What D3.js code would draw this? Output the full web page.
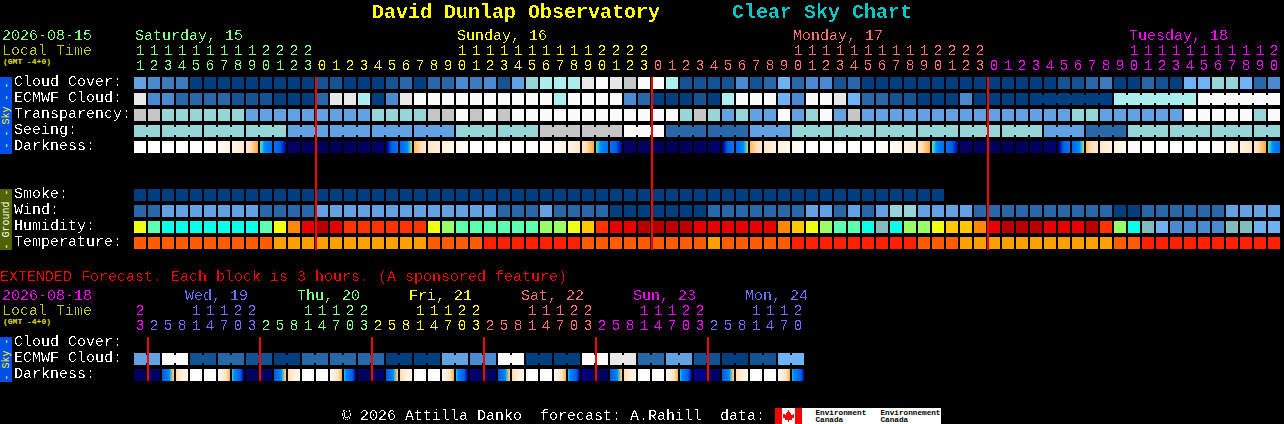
<!DOCTYPE html>
<html>
<head>
<meta charset="utf-8">
<title>David Dunlap Observatory Clear Sky Chart</title>
<script src="https://cdn.jsdelivr.net/npm/d3@7"></script>
<style>
    html, body { margin: 0; padding: 0; background: #000; overflow: hidden; }
    svg { display: block; }
    text { font-family: "Liberation Mono", monospace; white-space: pre; }
</style>
</head>
<body>
<script>
// hours of the 82 one hour blocks
var hours = [11,12,13,14,15,16,17,18,19,20,21,22,23,
    0,1,2,3,4,5,6,7,8,9,10,11,12,13,14,15,16,17,18,19,20,21,22,23,
    0,1,2,3,4,5,6,7,8,9,10,11,12,13,14,15,16,17,18,19,20,21,22,23,
    0,1,2,3,4,5,6,7,8,9,10,11,12,13,14,15,16,17,18,19,20];
var dayNames = ['Saturday, 15', 'Sunday, 16', 'Monday, 17', 'Tuesday, 18'];

// sky levels, index into skyColors
var cloudCover = [5,4,3,3,0,0,0,0,0,0, 0,0,0,1,1,0,0,0,1,2, 0,2,2,4,3,4,1,5,7,8,
    8,8,10,11,10,9,11,11,8,1, 1,1,1,4,1,2,6,2,4,4, 1,2,0,0,0,0,0,0,0,0,
    0,0,0,0,0,0,1,1,2,3, 0,0,2,1,0,6,6,7,7,6, 2,4];
var ecmwfCloud = [10,4,4,2,2,2,2,1,1,1, 0,0,0,2,10,10,8,0,4,10, 11,11,11,11,11,11,11,11,11,11,
    8,11,11,11,11,4,2,0,0,0, 1,0,8,11,11,11,6,4,11,11, 10,6,2,2,1,1,0,0,0,4,
    0,0,0,0,0,0,0,0,0,0, 8,8,8,8,8,8,11,11,11,11, 11,11];
var ecmwfRuns = [1,1,1,1,1,1,1,1,1,1,1,1,1,1,1,1,1,1,1,1,1,1,1,1,1,1,1,1,1,1,1,1,
    1,1,1,1,1,1,1,1,1,1,1,1,1,1,1,1,1,1,1,1,1,1,1,1,1,1,1,1,1,1,1,1,6,6,6];
var transparency = [9,9,7,7,7,7,7,7,5,5, 5,5,5,5,5,5,5,7,7,7, 7,9,9,11,9,11,9,11,11,11,
    11,11,11,11,11,11,11,11,11,7, 9,7,5,7,5,5,11,5,7,11, 5,9,5,5,5,5,5,5,5,5,
    5,5,5,5,5,5,5,7,7,5, 5,5,5,5,5,11,11,11,11,11, 7,11];
// seeing comes in three hour blocks
var seeing = [7,7,7,7,5,5,5,5,7,7,9,9,11,2,2,5,7,7,7,7,7,7,5,2,7,7,7,7];
var seeingRuns = [2,3,3,3,3,3,3,3,3,3,3,3,3,3,3,3,3,3,3,3,3,3,3,3,3,3,3,2];

// darkness at the start and the end of each block, limiting magnitude like scale
var darkStart = [-4,-4,-4,-4,-4,-3.8,-3.2,-2.4,-1.5,-0.1,2,5,5.5,5.8,5.9,5.9,5.8,5.5,4.2,2.4,-0.4,-1.4,-2,-2.9,
    -3.7,-4,-4,-4,-4,-3.7,-3.2,-2.4,-1.4,-0.1,2,5,5.5,5.8,5.9,5.9,5.8,5.5,4.2,2.4,-0.4,-1.4,-2.1,-2.9,
    -3.7,-4,-4,-4,-4,-3.8,-3.3,-2.5,-1.4,-0.1,2,5,5.5,5.8,5.9,5.9,5.8,5.4,4.2,2.4,-0.5,-1.6,-2.3,-3.1,
    -3.8,-4,-4,-4,-4,-3.6,-3,-2.2,-1.4,-0.1];
var darkEnd = [-4,-4,-4,-4,-3.9,-3.3,-2.4,-1.6,-0.1,2,4,5.5,5.8,5.9,5.9,5.8,5.5,5,1.6,-0.3,-1.4,-2,-2.9,-3.6,
    -4,-4,-4,-4,-3.8,-3.3,-2.4,-1.5,-0.1,2,4,5.5,5.8,5.9,5.9,5.8,5.5,4.8,1.6,-0.3,-1.4,-2.1,-2.9,-3.6,
    -4,-4,-4,-4,-3.9,-3.4,-2.6,-1.6,-0.1,2,4,5.5,5.8,5.9,5.9,5.8,5.4,4.8,1.6,-0.3,-1.6,-2.2,-3,-3.7,
    -4,-4,-4,-4,-3.8,-3.1,-2.3,-1.4,-0.1,2];

// ground rows
var smoke = [0,0,0,0,0,0,0,0,0,0, 0,0,0,0,0,0,0,0,0,0, 0,0,0,0,0,0,0,0,0,0,
    0,0,0,0,0,0,0,0,0,0, 0,0,0,0,0,0,0,0,0,0, 0,0,0,0,0,0,0,0];
var wind = [2,2,5,5,5,5,5,5,5,2, 2,2,2,5,5,5,5,5,5,5, 5,5,5,5,5,5,2,2,2,5,
    2,2,2,2,0,0,0,0,0,0, 0,2,2,2,2,2,2,2,5,5, 2,5,2,5,7,7,5,5,5,5,
    2,2,2,2,2,2,2,2,2,2, 0,0,2,2,2,2,2,2,5,5, 5,5];
var humidity = [6,4,3,3,3,3,3,3,3,4, 6,8,10,11,10,9,9,9,9,9, 9,6,5,4,4,4,4,4,4,5,
    5,6,7,9,10,10,11,11,11,11, 10,10,10,10,10,10,8,7,6,5, 4,4,3,2,3,5,5,6,7,7,
    8,10,11,11,11,10,10,10,11,9, 5,3,2,1,0,0,0,0,2,2, 1,1];
var temperature = [1,1,1,1,1,1,1,1,1,1, 2,2,2,2,2,2,2,2,2,2, 2,1,1,1,1,0,0,0,0,0,
    0,0,1,1,1,1,1,1,1,1, 1,2,1,1,1,1,1,0,0,0, 0,0,0,0,0,0,1,1,1,2,
    2,2,2,2,2,2,2,2,2,2, 1,1,0,0,0,0,0,0,0,0, 0,0];

// extended forecast, 48 blocks
var extHours = [23, 2,5,8,11,14,17,20,23, 2,5,8,11,14,17,20,23, 2,5,8,11,14,17,20,23,
    2,5,8,11,14,17,20,23, 2,5,8,11,14,17,20,23, 2,5,8,11,14,17,20];
var extDayNames = ['Wed, 19', 'Thu, 20', 'Fri, 21', 'Sat, 22', 'Sun, 23', 'Mon, 24'];
var extEcmwf = [5,11,1,2,1,0,2,2,2,0,0,5,4,11,0,0,11,10,2,5,1,0,1,6];
var extDarkStart = [5.6,5.8,3.2,-0.8,-3.8,-4,-3,0.05, 5.4,5.7,3.2,-0.8,-3.8,-4,-3,0.2, 5.4,5.7,3.2,-0.8,-3.8,-4,-3,0.2,
    4.4,5.5,3.2,-0.8,-3.8,-4,-3,0.2, 4,5.4,3.2,-0.9,-3.8,-4,-3,0.2, 3.9,5.2,3.2,-0.9,-3.8,-4,-3,0.3];
var extDarkEnd = [5.8,5.3,-0.8,-3.2,-4,-3.7,-0.2,4.2, 5.7,5.4,-0.8,-3.2,-4,-3.7,-0.2,4.2, 5.7,5.4,-0.8,-3.2,-4,-3.7,-0.2,4.2,
    5.5,5.6,-0.8,-3.2,-4,-3.7,-0.2,4.2, 5.2,5.7,-0.8,-3.2,-4,-3.7,-0.2,4.2, 4.3,5.6,-0.8,-3.2,-4,-3.7,-0.2,3.9];

var skyColors = ['#003f7f','#135393','#2868a8','#3c7cbc','#4a8ad0','#62a2e2','#70b2f6','#96d6d6','#aaeeee','#c6c6c6','#e8e8e8','#fbfbfb'];
var humidityColors = ['#4a8ad0','#70b0f0','#80bcbc','#08ffe8','#5cffb0','#99ff66','#eeff11','#ffc800','#ff8800','#ff3300','#e60000','#b80000'];
var temperatureColors = ['#ff2000','#ff5c00','#ffa000'];
var mainDayColors = ['#80ff80', '#ffff00', '#ff7070', '#ff00ff'];
var extDayColors = ['#ff00ff', '#7070ff', '#80ff80', '#ffff00', '#ff7070', '#ff00ff', '#7070ff'];

var darkColor = d3.scaleLinear()
    .domain([-4,-3,-2,-1,-0.5,-0.1,0.05,0.25,0.7,2,3,3.5,4,5,6])
    .range(['#ffffff','#fff9f0','#ffefd8','#ffe0b8','#ffc070','#ffa830','#40d0c0','#00d8ff','#0088f8','#0070f0','#0060e8','#0030c0','#000090','#000068','#00005a'])
    .clamp(true);

var STEP = 14, CELL = 12, LEFT = 134;
var x = d3.scaleLinear().domain([0, 1]).range([LEFT, LEFT + STEP]);

var svg = d3.select('body').append('svg').attr('width', 1284).attr('height', 424);
var defs = svg.append('defs');
defs.append('filter').attr('id', 'crisp')
    .attr('filterUnits', 'userSpaceOnUse')
    .attr('x', 0).attr('y', 0).attr('width', 1284).attr('height', 424)
    .append('feComponentTransfer')
    .append('feFuncA').attr('type', 'discrete').attr('tableValues', '0 0 0 1 1');

var cells = svg.append('g').attr('shape-rendering', 'crispEdges');
var labels = svg.append('g').attr('filter', 'url(#crisp)');
var smallLabels = svg.append('g');

function addText(str, px, py, color, size, bold) {
    return (size && size < 10 ? smallLabels : labels).append('text')
        .attr('x', px).attr('y', py)
        .attr('fill', color)
        .attr('font-size', size || 15)
        .attr('font-weight', bold ? 'bold' : 'normal')
        .text(str);
}

function drawRow(y, values, colors, runs) {
    cells.append('g').selectAll('rect')
        .data(values)
        .enter()
        .append('rect')
        .attr('x', function(d, i) { return x(i); })
        .attr('y', y)
        .attr('width', CELL)
        .attr('height', CELL)
        .attr('fill', function(d) { return colors[d]; });

    if (!runs) return;
    // blocks of one forecast step are joined by a narrow bridge
    var bridges = [], start = 0;
    runs.forEach(function(len) {
        for (var i = start; i < start + len - 1; i++) bridges.push(i);
        start += len;
    });
    cells.append('g').selectAll('rect')
        .data(bridges)
        .enter()
        .append('rect')
        .attr('x', function(i) { return x(i) + CELL; })
        .attr('y', y + 2)
        .attr('width', STEP - CELL)
        .attr('height', CELL - 4)
        .attr('fill', function(i) { return colors[values[i]]; });
}

function drawDarkness(y, starts, ends, id) {
    var grads = defs.selectAll('linearGradient.' + id)
        .data(starts)
        .enter()
        .append('linearGradient')
        .attr('class', id)
        .attr('id', function(d, i) { return id + i; });
    grads.selectAll('stop')
        .data(function(d, i) {
            return d3.range(0, 1.01, 1 / 12).map(function(t) {
                return { t: t, v: d + (ends[i] - d) * t };
            });
        })
        .enter()
        .append('stop')
        .attr('offset', function(s) { return s.t; })
        .attr('stop-color', function(s) { return darkColor(s.v); });

    cells.append('g').selectAll('rect')
        .data(starts)
        .enter()
        .append('rect')
        .attr('x', function(d, i) { return x(i); })
        .attr('y', y)
        .attr('width', CELL)
        .attr('height', CELL)
        .attr('fill', function(d, i) { return 'url(#' + id + i + ')'; });
}

// index of the day every block belongs to, a new day starts where the hour falls back
function dayIndex(hrs) {
    var day = 0;
    return hrs.map(function(h, i) {
        if (i > 0 && h < hrs[i - 1]) day++;
        return day;
    });
}

function drawHours(hrs, colors, tensY, unitsY) {
    var days = dayIndex(hrs);
    hrs.forEach(function(h, i) {
        var color = colors[days[i]];
        if (h >= 10) addText(String(Math.floor(h / 10)), x(i) + CELL / 2, tensY, color).attr('text-anchor', 'middle');
        addText(String(h % 10), x(i) + CELL / 2, unitsY, color).attr('text-anchor', 'middle');
    });
}

function drawMidnights(hrs, y0, y1) {
    var marks = [];
    hrs.forEach(function(h, i) { if (i > 0 && h < hrs[i - 1]) marks.push(i); });
    cells.append('g').selectAll('rect')
        .data(marks)
        .enter()
        .append('rect')
        .attr('x', function(i) { return x(i) - 1; })
        .attr('y', y0)
        .attr('width', 2)
        .attr('height', y1 - y0)
        .attr('fill', '#ff0000');
}

function drawSideBar(y0, y1, fill, color, str) {
    cells.append('rect').attr('x', 0).attr('y', y0).attr('width', 12).attr('height', y1 - y0).attr('fill', fill);
    smallLabels.append('text')
        .attr('transform', 'translate(9,' + ((y0 + y1) / 2) + ') rotate(-90)')
        .attr('text-anchor', 'middle')
        .attr('font-size', 10)
        .attr('fill', color)
        .text(str);
}

// title
addText('David Dunlap Observatory', 372, 18, '#ffff00', 20, true);
addText('Clear Sky Chart', 732, 18, '#00c8c8', 20, true);

// main chart heading
addText('2026-08-15', 2, 40, '#80ff80');
addText('Local Time', 2, 55, '#c8c800');
addText('(GMT -4+0)', 3, 64, '#e0e000', 8, true);
var mainDays = dayIndex(hours);
dayNames.forEach(function(name, d) {
    var first = hours.findIndex(function(h, i) { return mainDays[i] == d && h >= 10; });
    addText(name, x(first) + 1, 40, mainDayColors[d]);
});
drawHours(hours, mainDayColors, 55, 70);

// sky rows
drawSideBar(77, 154, '#0050e8', '#ffff00', '- - Sky - -');
['Cloud Cover:', 'ECMWF Cloud:', 'Transparency:', 'Seeing:', 'Darkness:'].forEach(function(s, i) {
    addText(s, 14, 86 + i * 16, '#ffffff');
});
drawRow(77, cloudCover, skyColors);
drawRow(93, ecmwfCloud, skyColors, ecmwfRuns);
drawRow(109, transparency, skyColors);
var seeingCells = [];
seeingRuns.forEach(function(len, b) { for (var k = 0; k < len; k++) seeingCells.push(seeing[b]); });
drawRow(125, seeingCells, skyColors, seeingRuns);
drawDarkness(141, darkStart, darkEnd, 'dark');

// ground rows
drawSideBar(189, 250, '#4f6400', '#ffffff', '- Ground -');
['Smoke:', 'Wind:', 'Humidity:', 'Temperature:'].forEach(function(s, i) {
    addText(s, 14, 198 + i * 16, '#ffffff');
});
drawRow(189, smoke, skyColors);
drawRow(205, wind, skyColors);
drawRow(221, humidity, humidityColors);
drawRow(237, temperature, temperatureColors);
drawMidnights(hours, 77, 250);

// extended forecast
addText('EXTENDED Forecast. Each block is 3 hours. (A sponsored feature)', 0, 281, '#ff0000');
addText('2026-08-18', 2, 300, '#ff00ff');
addText('Local Time', 2, 315, '#c8c800');
addText('(GMT -4+0)', 3, 324, '#e0e000', 8, true);
var extDays = dayIndex(extHours);
extDayNames.forEach(function(name, d) {
    var first = extHours.findIndex(function(h, i) { return extDays[i] == d + 1 && h >= 10; });
    addText(name, x(first) - 5, 300, extDayColors[d + 1]);
});
drawHours(extHours, extDayColors, 315, 330);

drawSideBar(337, 382, '#0050e8', '#ffff00', '- Sky -');
['Cloud Cover:', 'ECMWF Cloud:', 'Darkness:'].forEach(function(s, i) {
    addText(s, 14, 346 + i * 16, '#ffffff');
});
var extEcmwfCells = [], extRuns = [];
extEcmwf.forEach(function(v) { extEcmwfCells.push(v, v); extRuns.push(2); });
drawRow(353, extEcmwfCells, skyColors, extRuns);
drawDarkness(369, extDarkStart, extDarkEnd, 'extdark');
drawMidnights(extHours, 337, 381);

// footer and data credit
addText('\u00a9 2026 Attilla Danko  forecast: A.Rahill  data:', 342, 420, '#ffffff');
cells.append('rect').attr('x', 775).attr('y', 408).attr('width', 166).attr('height', 16).attr('fill', '#ffffff');
cells.append('rect').attr('x', 775).attr('y', 408).attr('width', 7).attr('height', 16).attr('fill', '#ff0000');
cells.append('rect').attr('x', 795).attr('y', 408).attr('width', 7).attr('height', 16).attr('fill', '#ff0000');
cells.append('path')
    .attr('transform', 'translate(788.5,416)')
    .attr('d', 'M0,-6 L1.5,-3 L3,-4 L2.5,-1 L5.5,-2 L5,0 L6,1 L3,3 L3.2,4 L0.5,3.5 L0.5,6 L-0.5,6 L-0.5,3.5 L-3.2,4 L-3,3 L-6,1 L-5,0 L-5.5,-2 L-2.5,-1 L-3,-4 L-1.5,-3 Z')
    .attr('fill', '#ff0000');
addText('Environment', 815.5, 415, '#000000', 7.7, true);
addText('Canada', 815.5, 422, '#000000', 7.7, true);
addText('Environnement', 880.5, 415, '#000000', 7.7, true);
addText('Canada', 880.5, 422, '#000000', 7.7, true);
</script>
</body>
</html>
